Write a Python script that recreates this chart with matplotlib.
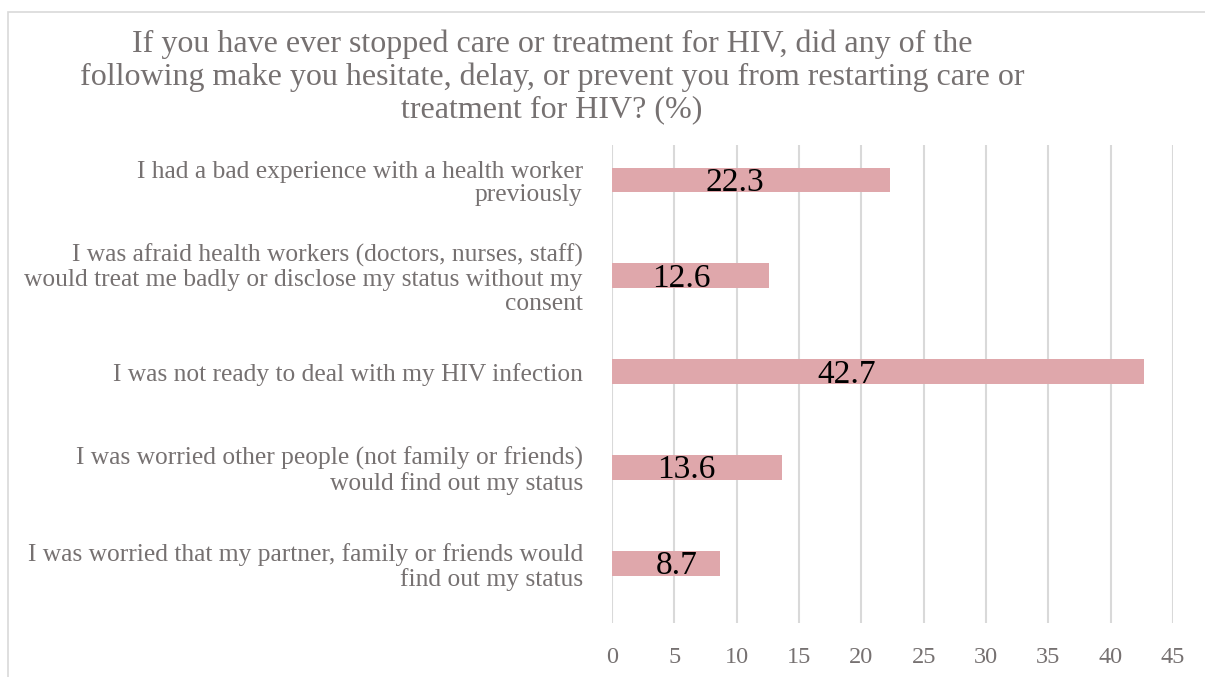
import matplotlib
matplotlib.use("Agg")
import matplotlib.pyplot as plt
from matplotlib.patches import Rectangle

plt.rcParams['font.family'] = ['Liberation Serif', 'DejaVu Serif']

title = ("If you have ever stopped care or treatment for HIV, did any of the\n"
         "following make you hesitate, delay, or prevent you from restarting care or\n"
         "treatment for HIV? (%)")

reasons = [
    "I had a bad experience with a health worker\npreviously",
    "I was afraid health workers (doctors, nurses, staff)\nwould treat me badly or disclose my status without my\nconsent",
    "I was not ready to deal with my HIV infection",
    "I was worried other people (not family or friends)\nwould find out my status",
    "I was worried that my partner, family or friends would\nfind out my status",
]
percent = [22.3, 12.6, 42.7, 13.6, 8.7]
xticks = [0, 5, 10, 15, 20, 25, 30, 35, 40, 45]

grey = '#767171'
bar_col = '#dfa7ab'

fig = plt.figure(figsize=(12.05, 6.77), dpi=100)
ax = fig.add_axes([0.5079, 0.0798, 0.4655, 0.706])

pos = list(range(len(reasons)))
ax.barh(pos, percent, height=0.26, color=bar_col, zorder=2)

for y, v in zip(pos, percent):
    ax.text(max(v * 0.44, 5.2), y - 0.01, f"{v:.1f}", ha='center', va='center_baseline',
            fontsize=24, color='black', zorder=3)

ax.set_xlim(0, 45)
ax.set_ylim(4.62, -0.365)
ax.set_xticks(xticks)
ax.set_xticklabels([str(t) for t in xticks])
ax.set_yticks(pos)
ax.set_yticklabels(reasons)
for lab in ax.get_yticklabels():
    lab.set_linespacing(1.1)
ax.tick_params(axis='y', length=0, pad=21, labelsize=18.4, labelcolor=grey)
ax.tick_params(axis='x', length=0, pad=17, labelsize=17.5, labelcolor=grey)
ax.grid(axis='x', color='#d9d9d9', linewidth=1.5, zorder=0)
ax.set_axisbelow(True)
for s in ax.spines.values():
    s.set_visible(False)

fig.text(552 / 1205, 1 - 77 / 677, title, ha='center', va='center',
         fontsize=23, color=grey, linespacing=1.155)

# chart frame
fig.patches.append(Rectangle((8 / 1205, -0.1), 1.2, 1.1 - 12 / 677,
                             transform=fig.transFigure, fill=False,
                             edgecolor='#d9d9d9', linewidth=1.2))

fig.savefig("out.png", dpi=100)
